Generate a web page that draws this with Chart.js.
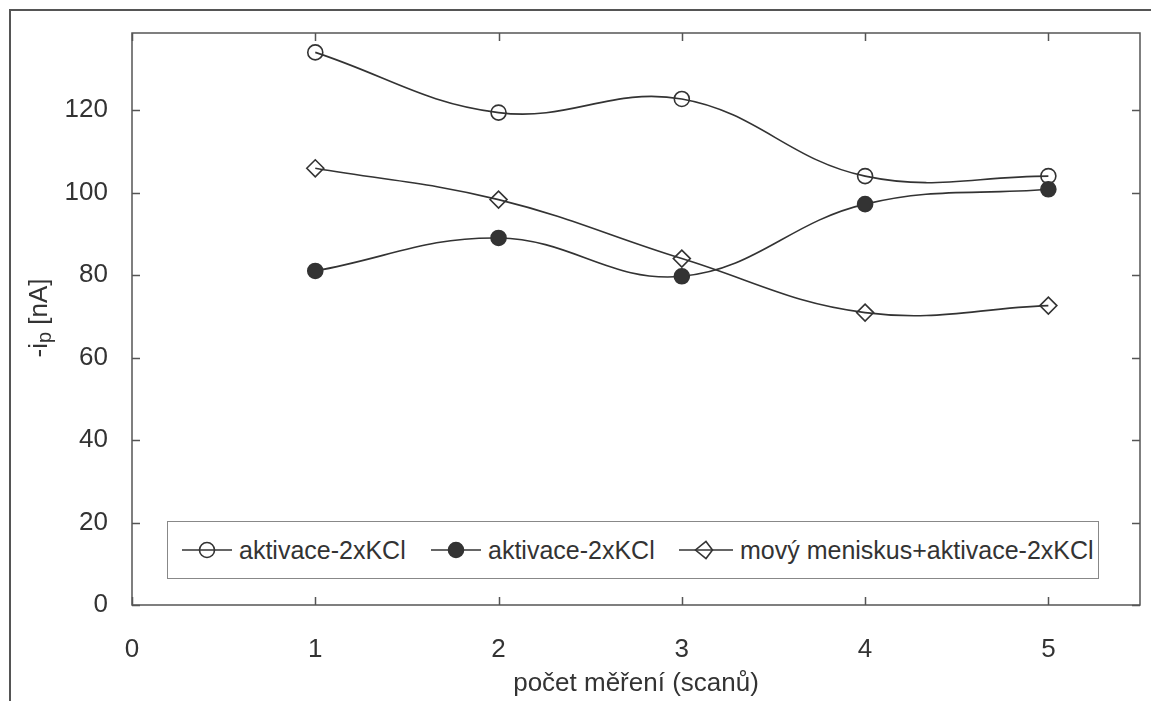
<!DOCTYPE html>
<html>
<head>
<meta charset="utf-8">
<script src="https://cdn.jsdelivr.net/npm/chart.js@4"></script>
<style>
  body { margin: 0; background: #fff; }
  #wrap { position: relative; width: 1151px; height: 701px; font-family: "Liberation Sans", Arial, sans-serif; color: #333; }
  #frame { position: absolute; left: 9px; top: 9px; right: -5px; bottom: -5px; border-left: 2px solid #555; border-top: 2px solid #555; }
  #legend { position: absolute; left: 167px; top: 521px; width: 930px; height: 56px; border: 1.5px solid #888; background: #fff; }
  .item { position: absolute; top: 0; height: 56px; display: flex; align-items: center; font-size: 25px; }
  .item svg { margin-right: 7px; }
</style>
</head>
<body>
<div id="wrap">
  <div id="frame"></div>
  <canvas id="chart" width="1151" height="701" style="position:absolute;left:0;top:0"></canvas>
  <div id="legend"></div>
</div>
<script>
function getElement(id) {
  return document.getElementById(id);
}

// Data

const scans = [1, 2, 3, 4, 5];
const openCircles = [134, 119.4, 122.7, 104, 104];
const filledCircles = [81, 89, 79.7, 97.2, 100.8];
const diamonds = [105.9, 98.3, 84, 70.9, 72.6];
const seriesLabels = ["aktivace-2xKCl", "aktivace-2xKCl", "mový meniskus+aktivace-2xKCl"];
const xTicks = [0, 1, 2, 3, 4, 5];
const yTicks = [0, 20, 40, 60, 80, 100, 120];

const ink = "#333";

function toPoints(values) {
  return scans.map((x, i) => ({ x: x, y: values[i] }));
}

// inward ticks, plot frame and axis titles
const decorations = {
  id: "decorations",
  afterDraw(chart) {
    const c = chart.ctx;
    const a = chart.chartArea;
    const xs = chart.scales.x;
    const ys = chart.scales.y;
    c.save();
    c.strokeStyle = "#555";
    c.lineWidth = 1.5;
    c.strokeRect(a.left, a.top, a.right - a.left, a.bottom - a.top);
    c.beginPath();
    xTicks.forEach((v) => {
      const px = Math.round(xs.getPixelForValue(v)) + 0.5;
      c.moveTo(px, a.bottom);
      c.lineTo(px, a.bottom - 8);
      c.moveTo(px, a.top);
      c.lineTo(px, a.top + 8);
    });
    yTicks.forEach((v) => {
      const py = Math.round(ys.getPixelForValue(v)) + 0.5;
      c.moveTo(a.left, py);
      c.lineTo(a.left + 8, py);
      c.moveTo(a.right, py);
      c.lineTo(a.right - 8, py);
    });
    c.stroke();

    c.fillStyle = ink;
    c.textBaseline = "middle";
    c.textAlign = "center";
    c.font = '26px "Liberation Sans", Arial, sans-serif';
    c.fillText("počet měření (scanů)", (a.left + a.right) / 2, 684);

    // y title with subscript
    c.translate(38, 318);
    c.rotate(-Math.PI / 2);
    c.textAlign = "left";
    c.textBaseline = "alphabetic";
    const big = '26px "Liberation Sans", Arial, sans-serif';
    const small = '20px "Liberation Sans", Arial, sans-serif';
    c.font = big;
    const w1 = c.measureText("-i").width;
    c.font = small;
    const w2 = c.measureText("p").width;
    c.font = big;
    const w3 = c.measureText(" [nA]").width;
    let x0 = -(w1 + w2 + w3) / 2;
    c.fillText("-i", x0, 9);
    c.font = small;
    c.fillText("p", x0 + w1, 13);
    c.font = big;
    c.fillText(" [nA]", x0 + w1 + w2, 9);
    c.restore();
  },
};

const common = {
  borderColor: ink,
  borderWidth: 1.6,
  tension: 0.4,
  pointBorderColor: ink,
  pointBorderWidth: 1.6,
};

const chart = new Chart(getElement("chart"), {
  type: "line",
  data: {
    datasets: [
      Object.assign({}, common, {
        label: seriesLabels[0],
        data: toPoints(openCircles),
        pointStyle: "circle",
        pointRadius: 7.5,
        pointBackgroundColor: "rgba(0,0,0,0)",
      }),
      Object.assign({}, common, {
        label: seriesLabels[1],
        data: toPoints(filledCircles),
        pointStyle: "circle",
        pointRadius: 7.5,
        pointBackgroundColor: ink,
      }),
      Object.assign({}, common, {
        label: seriesLabels[2],
        data: toPoints(diamonds),
        pointStyle: "rectRot",
        pointRadius: 8.5,
        pointBackgroundColor: "rgba(0,0,0,0)",
      }),
    ],
  },
  options: {
    responsive: false,
    animation: false,
    layout: {
      padding: { left: 9, top: 33, right: 11, bottom: 0 },
    },
    scales: {
      x: {
        type: "linear",
        min: 0,
        max: 5.5,
        afterFit: (s) => {
          s.height = 96;
          s.paddingLeft = 0;
          s.paddingRight = 0;
        },
        afterBuildTicks: (s) => { s.ticks = xTicks.map((v) => ({ value: v })); },
        grid: { display: false, drawTicks: false },
        border: { display: false },
        ticks: {
          padding: 29,
          color: ink,
          font: { family: "Liberation Sans", size: 26 },
        },
      },
      y: {
        min: 0,
        max: 138.7,
        afterFit: (s) => {
          s.width = 123;
          s.paddingTop = 0;
          s.paddingBottom = 0;
        },
        afterBuildTicks: (s) => { s.ticks = yTicks.map((v) => ({ value: v })); },
        grid: { display: false, drawTicks: false },
        border: { display: false },
        ticks: {
          padding: 24,
          color: ink,
          font: { family: "Liberation Sans", size: 26 },
        },
      },
    },
    plugins: {
      legend: { display: false },
      tooltip: { enabled: false },
    },
  },
  plugins: [decorations],
});

// Legend

const legendLeft = [14, 263, 511];
const symbols = [
  '<circle cx="25" cy="12" r="7.5" fill="none" stroke="#333" stroke-width="1.6"/>',
  '<circle cx="25" cy="12" r="7.5" fill="#333" stroke="#333" stroke-width="1.6"/>',
  '<polygon points="25,3.5 33.5,12 25,20.5 16.5,12" fill="none" stroke="#333" stroke-width="1.6"/>',
];
let legend_html = "";
for (let i = 0; i < seriesLabels.length; i++) {
  const w = i === 2 ? 54 : 50;
  legend_html += `
    <div class="item" style="left:${legendLeft[i]}px">
      <svg width="${w}" height="24" viewBox="0 0 ${w} 24">
        <line x1="0" y1="12" x2="${w}" y2="12" stroke="#333" stroke-width="1.6"/>
        ${symbols[i].replace(/25/g, w / 2)}
      </svg>
      <span>${seriesLabels[i]}</span>
    </div>
  `;
}
getElement("legend").innerHTML = legend_html;
</script>
</body>
</html>
